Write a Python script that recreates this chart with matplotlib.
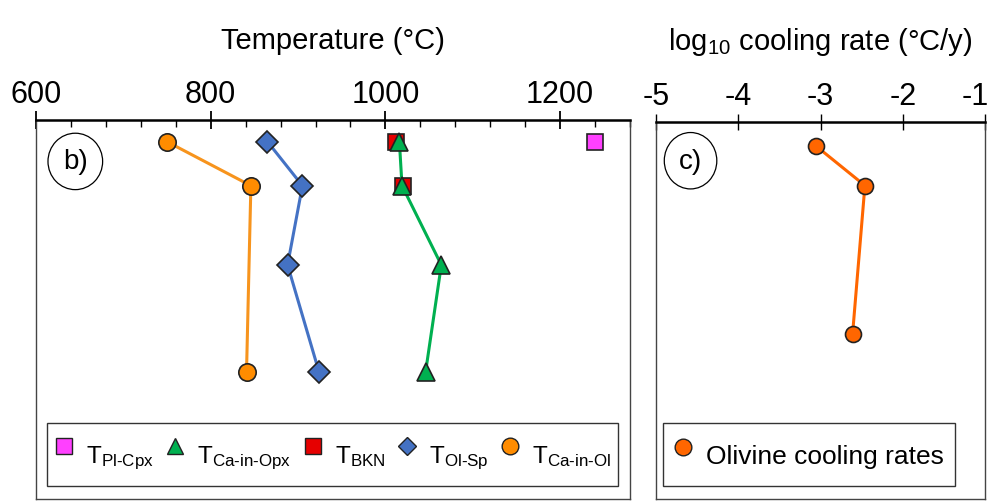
import matplotlib
matplotlib.use("Agg")
import matplotlib.pyplot as plt
from matplotlib.ticker import MultipleLocator
from matplotlib.lines import Line2D
from matplotlib.transforms import ScaledTranslation

plt.rcParams['font.family'] = ['Liberation Sans', 'DejaVu Sans']
plt.rcParams['mathtext.fontset'] = 'custom'
plt.rcParams['mathtext.rm'] = 'Liberation Sans'
plt.rcParams['mathtext.it'] = 'Liberation Sans'

# ---- data ----
sample_level = [0.58, 1.74, 3.83, 6.65]
T_ca_in_ol_level = [0.58, 1.74, 6.65]
T_ca_in_ol = [750, 846, 841]
T_ol_sp = [865, 905, 888, 924]
T_ca_in_opx = [1016, 1019, 1064, 1046]
T_bkn_level = [0.58, 1.74]
T_bkn = [1012, 1020]
T_pl_cpx_level = [0.58]
T_pl_cpx = [1240]

cool_level = [0.62, 1.68, 5.62]
cool_rate = [-3.06, -2.46, -2.61]

temp_ticks = [600, 800, 1000, 1200]
rate_ticks = [-5, -4, -3, -2, -1]

# colours
c_orange = '#FF8C00'
c_orange_line = '#F7941D'
c_blue = '#4472C4'
c_green = '#00B050'
c_red = '#E60000'
c_mag = '#FF40FF'
c_rate = '#FF6600'

W, H = 995, 502
fig = plt.figure(figsize=(W / 100, H / 100), dpi=100)

axL = fig.add_axes([36 / W, 1 - 500 / H, (630 - 36) / W, (500 - 120.7) / H])
axR = fig.add_axes([656 / W, 1 - 500 / H, (985 - 656) / W, (500 - 123.3) / H])

ms = 12
mew = 1.2
lw = 2.2

# left panel
axL.plot(T_bkn, T_bkn_level, ls='none', marker='s', ms=ms, mfc=c_red, mec='#222222', mew=mew, zorder=3)
axL.plot(T_pl_cpx, T_pl_cpx_level, ls='none', marker='s', ms=ms, mfc=c_mag, mec='#222222', mew=mew, zorder=3)
axL.plot(T_ca_in_opx, sample_level, color=c_green, lw=lw, marker='^', ms=ms + 1, mfc=c_green, mec='#222222', mew=mew, zorder=4)
axL.plot(T_ol_sp, sample_level, color=c_blue, lw=lw, marker='D', ms=ms - 1, mfc=c_blue, mec='#222222', mew=mew, zorder=4)
axL.plot(T_ca_in_ol, T_ca_in_ol_level, color=c_orange_line, lw=lw, marker='o', ms=ms + 0.5, mfc=c_orange, mec='#222222', mew=mew, zorder=4)

axL.set_xlim(600, 1280)
axL.set_ylim(10, 0)
axL.xaxis.set_ticks_position('top')
axL.xaxis.set_label_position('top')
axL.set_xticks(temp_ticks)
axL.xaxis.set_minor_locator(MultipleLocator(40))
axL.tick_params(axis='x', which='major', direction='inout', length=13, width=1.3, labelsize=22, pad=1.5)
axL.tick_params(axis='x', which='minor', direction='in', length=5, width=1.0)
axL.set_yticks([])
axL.set_xlabel('Temperature (°C)', fontsize=21, labelpad=22)

# right panel
axR.plot(cool_rate, cool_level, color=c_rate, lw=lw, marker='o', ms=ms - 0.5, mfc=c_rate, mec='#222222', mew=mew, zorder=4)
axR.set_xlim(-5, -1)
axR.set_ylim(10, 0)
axR.xaxis.set_ticks_position('top')
axR.xaxis.set_label_position('top')
axR.set_xticks(rate_ticks)
axR.set_xticklabels([str(t) for t in rate_ticks])
axR.tick_params(axis='x', which='major', direction='inout', length=12, width=1.0, labelsize=22, pad=2)
axR.set_yticks([])
axR.set_xlabel('log$_{10}$ cooling rate (°C/y)', fontsize=21, labelpad=23)
# keep the last label inside the figure
fig.canvas.draw()
last = axR.get_xticklabels()[-1]
last.set_transform(last.get_transform() + ScaledTranslation(-10 / 100, 0, fig.dpi_scale_trans))

for ax in (axL, axR):
    for side in ('left', 'right', 'bottom'):
        ax.spines[side].set_linewidth(1.0)
        ax.spines[side].set_color('#444444')
    ax.spines['top'].set_linewidth(1.8)
    ax.spines['top'].set_color('black')

# panel labels
ell = dict(boxstyle='ellipse,pad=0.25', fc='white', ec='black', lw=0.9)
axL.text(645, 1.1, 'b)', fontsize=20, ha='center', va='center', bbox=ell)
axR.text(-4.58, 1.02, 'c)', fontsize=20, ha='center', va='center', bbox=ell)

# legends
handlesL = [
    Line2D([], [], ls='none', marker='s', ms=11, mfc=c_mag, mec='#222222', mew=1),
    Line2D([], [], ls='none', marker='^', ms=11, mfc=c_green, mec='#222222', mew=1),
    Line2D([], [], ls='none', marker='s', ms=11, mfc=c_red, mec='#222222', mew=1),
    Line2D([], [], ls='none', marker='D', ms=9, mfc=c_blue, mec='#222222', mew=1),
    Line2D([], [], ls='none', marker='o', ms=12, mfc=c_orange, mec='#222222', mew=1),
]
labelsL = [
    'T$_{\\mathregular{Pl\u2010Cpx}}$',
    'T$_{\\mathregular{Ca\u2010in\u2010Opx}}$',
    'T$_{\\mathregular{BKN}}$',
    'T$_{\\mathregular{Ol\u2010Sp}}$',
    'T$_{\\mathregular{Ca\u2010in\u2010Ol}}$',
]
legL = axL.legend(handlesL, labelsL, loc='lower left', ncol=5, mode='expand',
                  bbox_to_anchor=(0.0185, 0.034, 0.962, 0.17), fontsize=17.5,
                  frameon=True, fancybox=False, edgecolor='black',
                  handlelength=0.8, handleheight=2.7, handletextpad=0.5, columnspacing=0.6,
                  borderaxespad=0, borderpad=0.3)
legL.get_frame().set_linewidth(1.0)
axL.set_xlim(600, 1280)

legR = axR.legend([Line2D([], [], ls='none', marker='o', ms=12, mfc=c_rate, mec='#222222', mew=1)],
                  ['Olivine cooling rates'], loc='lower left',
                  bbox_to_anchor=(0.021, 0.034, 0.888, 0.17), mode='expand', fontsize=19,
                  frameon=True, fancybox=False, edgecolor='black',
                  handlelength=0.9, handleheight=2.4, handletextpad=0.45,
                  borderaxespad=0, borderpad=0.3)
legR.get_frame().set_linewidth(1.0)

fig.savefig('out.png', dpi=100)
